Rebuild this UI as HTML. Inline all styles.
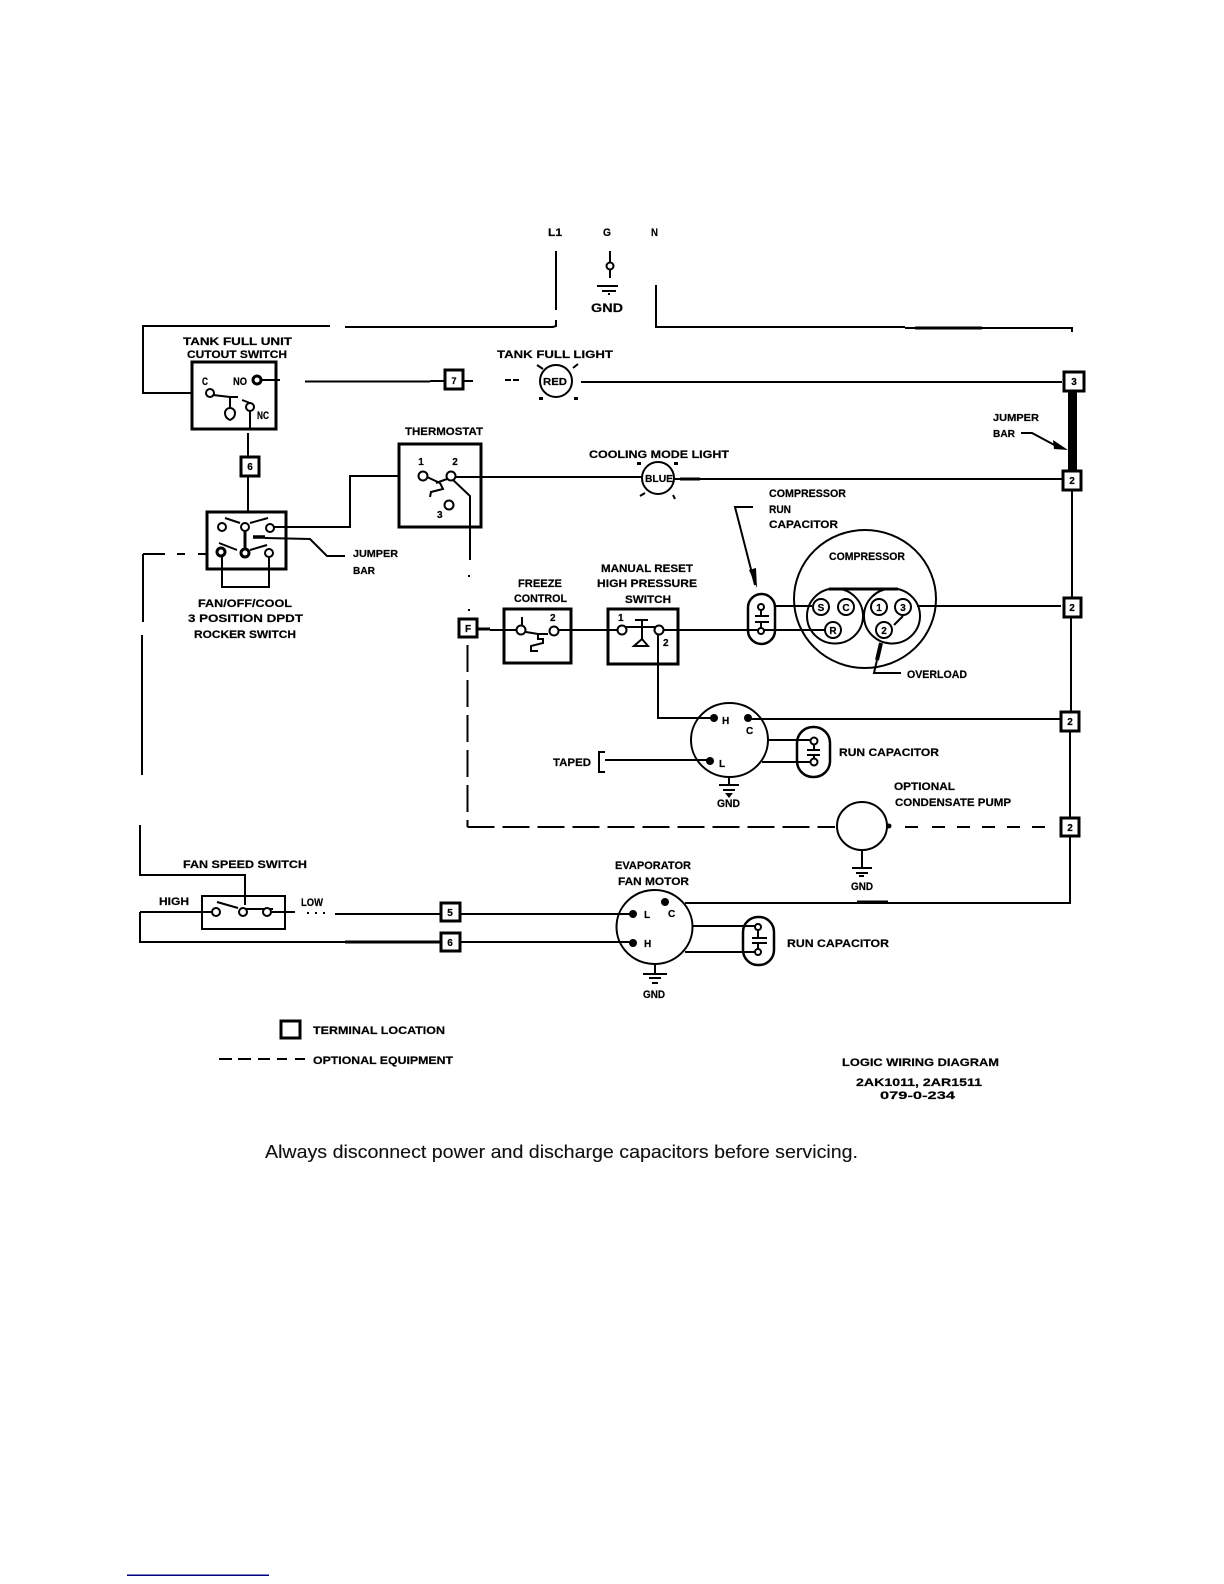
<!DOCTYPE html>
<html><head><meta charset="utf-8"><style>
html,body{margin:0;padding:0;background:#fff}
svg{display:block}
text{font-family:"Liberation Sans",sans-serif;font-weight:bold;font-size:11px;fill:#000;stroke:#000;stroke-width:.2}
.w{fill:none;stroke:#000;stroke-width:2}
.b{fill:#fff;stroke:#000;stroke-width:3}
.c{fill:#fff;stroke:#000;stroke-width:2}
.d{fill:#000}
.t{text-anchor:middle}
.n{font-weight:normal;font-size:18px;fill:#111;stroke-width:.1}
</style></head><body>
<svg width="1224" height="1584" viewBox="0 0 1224 1584" xmlns="http://www.w3.org/2000/svg">
<!-- mains -->
<path class="w" d="M556 251V310M556 320V326L553 327H345M330 326H143V393H205"/>
<path class="w" d="M610 251V278M597 286H618M602 291H616M609 293V295"/>
<circle class="c" cx="610" cy="266" r="3.5"/>
<path class="w" d="M656 285V327H905M905 328H1072V332"/>
<path d="M915 328H982" stroke="#000" stroke-width="3"/>
<text x="548" y="236" textLength="14" lengthAdjust="spacingAndGlyphs">L1</text><text x="603" y="236" textLength="8" lengthAdjust="spacingAndGlyphs">G</text><text x="651" y="236" textLength="7" lengthAdjust="spacingAndGlyphs">N</text>
<text x="591" y="312" textLength="32" lengthAdjust="spacingAndGlyphs" style="font-size:12px">GND</text>
<!-- tank switch -->
<text x="183" y="345" textLength="109" lengthAdjust="spacingAndGlyphs">TANK FULL UNIT</text>
<text x="187" y="358" textLength="100" lengthAdjust="spacingAndGlyphs">CUTOUT SWITCH</text>
<rect class="b" x="192" y="362" width="84" height="67"/>
<text x="202" y="385" textLength="6" lengthAdjust="spacingAndGlyphs">C</text><text x="233" y="385" textLength="14" lengthAdjust="spacingAndGlyphs">NO</text><text x="257" y="419" textLength="12" lengthAdjust="spacingAndGlyphs">NC</text>
<path class="w" d="M213 395L230 397H238M242 400L250 403M230 397V408M257 380H280M305 381.500H430M250 407V429M248 433V456M248 477V515"/>
<path class="w" d="M225 413a5 5 0 0 1 10 0q0 5-5 7q-5-2-5-7z"/>
<circle class="c" cx="210" cy="393" r="4"/><circle cx="257" cy="380" r="4" fill="#fff" stroke="#000" stroke-width="3"/><circle class="c" cx="250" cy="407" r="4"/>
<rect class="b" x="445" y="370" width="18" height="19"/><path class="w" d="M430 381H444M464 381H473"/><text class="t" x="454" y="384" style="font-size:9px">7</text>
<path class="w" d="M505 380H511M513 380H519"/>
<!-- tank light -->
<text x="497" y="358" textLength="116" lengthAdjust="spacingAndGlyphs">TANK FULL LIGHT</text>
<circle class="c" cx="556" cy="381" r="16"/><text x="543" y="385" textLength="24" lengthAdjust="spacingAndGlyphs" style="font-size:10px">RED</text>
<path class="w" d="M537 365L543 369M578 364L573 368"/><rect class="d" x="539" y="397" width="4" height="3"/><rect class="d" x="574" y="397" width="4" height="3"/>
<path class="w" d="M581 382H1062"/>
<rect class="b" x="1064" y="372" width="20" height="19"/><text class="t" x="1074" y="385" style="font-size:10px">3</text>
<rect class="d" x="1068" y="391" width="9" height="79"/>
<text x="993" y="421" textLength="46" lengthAdjust="spacingAndGlyphs" style="font-size:10px">JUMPER</text><text x="993" y="437" textLength="22" lengthAdjust="spacingAndGlyphs" style="font-size:10px">BAR</text>
<path class="w" d="M1021 433H1032L1060 448"/><path class="d" d="M1053 440L1068 450L1054 449Z"/>
<!-- box 6 -->
<rect class="b" x="241" y="457" width="18" height="19"/><text class="t" x="250" y="470" style="font-size:10px">6</text>
<!-- rocker -->
<rect class="b" x="207" y="512" width="79" height="57"/>
<path class="w" d="M225 518L240 523M250 523L268 518M219 543L237 550M250 550L267 545"/>
<path d="M245 527V553" stroke="#000" stroke-width="3"/>
<path class="w" d="M222 553V587H269V553"/>
<path d="M253 537H265" stroke="#000" stroke-width="3.500"/><path class="w" d="M265 538L310 539L327 556H345"/>
<circle class="c" cx="222" cy="527" r="4"/><circle class="c" cx="245" cy="527" r="4"/><circle class="c" cx="270" cy="528" r="4"/><circle cx="221" cy="552" r="4" fill="#fff" stroke="#000" stroke-width="3"/><circle cx="245" cy="553" r="4" fill="#fff" stroke="#000" stroke-width="3"/><circle class="c" cx="269" cy="553" r="4"/>
<path class="w" d="M274 527H350V476H418"/>
<text x="353" y="557" textLength="45" lengthAdjust="spacingAndGlyphs" style="font-size:10px">JUMPER</text><text x="353" y="574" textLength="22" lengthAdjust="spacingAndGlyphs" style="font-size:10px">BAR</text>
<text x="198" y="607" textLength="94" lengthAdjust="spacingAndGlyphs">FAN/OFF/COOL</text><text x="188" y="622" textLength="115" lengthAdjust="spacingAndGlyphs">3 POSITION DPDT</text><text x="194" y="638" textLength="102" lengthAdjust="spacingAndGlyphs">ROCKER SWITCH</text>
<path class="w" d="M143 554H165M177 554H185M198 554H207M143 554V622M142 635V775M140 825V875H245V905"/>
<!-- thermostat -->
<text x="405" y="435" textLength="78" lengthAdjust="spacingAndGlyphs">THERMOSTAT</text>
<rect class="b" x="399" y="444" width="82" height="83"/>
<text class="t" x="421" y="465" style="font-size:10px">1</text><text class="t" x="455" y="465" style="font-size:10px">2</text><text x="437" y="518" style="font-size:10px">3</text>
<path class="w" d="M427 477L440 483M436 483L447 479M440 483L443 489L431 492L430 497M451 478L470 496V560M469 575V577M469 609V611"/>
<circle class="c" cx="423" cy="476" r="4.500"/><circle class="c" cx="451" cy="476" r="4.500"/><circle class="c" cx="449" cy="505" r="4.500"/>
<path class="w" d="M456 477H642M674 479H1062"/>
<path d="M680 479H700" stroke="#000" stroke-width="3"/>
<!-- cool light -->
<text x="589" y="458" textLength="140" lengthAdjust="spacingAndGlyphs">COOLING MODE LIGHT</text>
<circle class="c" cx="658" cy="478" r="16"/><text x="645" y="482" textLength="28" lengthAdjust="spacingAndGlyphs" style="font-size:10px">BLUE</text>
<rect class="d" x="637" y="462" width="4" height="3"/><rect class="d" x="674" y="462" width="4" height="3"/><path class="w" d="M640 496L645 493M675 499L673 495"/>
<rect class="b" x="1063" y="471" width="18" height="19"/><text class="t" x="1072" y="484" style="font-size:10px">2</text>
<path class="w" d="M1072 490V597M1071 618V711M1070 732V817M1070 837V903H685"/><path d="M857 902H888" stroke="#000" stroke-width="3"/>
<!-- F + freeze + switch -->
<rect class="b" x="459" y="619" width="18" height="18"/><text class="t" x="468" y="632" style="font-size:10px">F</text>
<path d="M478 629H490" stroke="#000" stroke-width="3"/><path class="w" d="M490 630H825"/>
<text x="518" y="587" textLength="44" lengthAdjust="spacingAndGlyphs">FREEZE</text><text x="514" y="602" textLength="53" lengthAdjust="spacingAndGlyphs">CONTROL</text>
<rect x="504" y="609" width="67" height="54" fill="#fff" stroke="#000" stroke-width="3"/><path class="w" d="M490 630H521M554 630H608"/>
<path class="w" d="M522 617V625M526 632L538 634H548M538 634V639H543V643L531 646V651H538"/>
<circle class="c" cx="521" cy="630" r="4.500"/><circle class="c" cx="554" cy="631" r="4.500"/><text x="550" y="621" style="font-size:10px">2</text>
<text x="601" y="572" textLength="92" lengthAdjust="spacingAndGlyphs">MANUAL RESET</text><text x="597" y="587" textLength="100" lengthAdjust="spacingAndGlyphs">HIGH PRESSURE</text><text x="625" y="603" textLength="46" lengthAdjust="spacingAndGlyphs">SWITCH</text>
<rect x="608" y="609" width="70" height="55" fill="#fff" stroke="#000" stroke-width="3"/>
<path class="w" d="M608 630H618M664 630H678M635 620H648M642 620V640M642 646H634L642 639L648 646Z"/>
<path class="w" d="M618 627H655"/><path class="w" d="M658 635V718H714"/>
<circle class="c" cx="622" cy="630" r="4.500"/><circle class="c" cx="659" cy="630" r="4.500"/>
<text x="618" y="621" style="font-size:10px">1</text><text x="663" y="646" style="font-size:10px">2</text>
<!-- compressor -->
<path class="w" d="M753 507H735L755 585"/><path class="d" d="M749 570L756 568L757 588Z"/>
<text x="769" y="497" textLength="77" lengthAdjust="spacingAndGlyphs">COMPRESSOR</text><text x="769" y="513" textLength="22" lengthAdjust="spacingAndGlyphs">RUN</text><text x="769" y="528" textLength="69" lengthAdjust="spacingAndGlyphs">CAPACITOR</text>
<ellipse class="w" cx="865" cy="599" rx="71" ry="69"/>
<text x="829" y="560" textLength="76" lengthAdjust="spacingAndGlyphs">COMPRESSOR</text>
<path class="w" d="M775 606H812"/>
<rect x="748" y="594" width="27" height="50" rx="13.500" fill="#fff" stroke="#000" stroke-width="2.500"/>
<path class="w" d="M748 630H812M755 616H769M755 622H769M761 607V616M761 622V631"/><circle class="c" cx="761" cy="607" r="3"/><circle class="c" cx="761" cy="631" r="3"/>
<path d="M829 589H898" stroke="#000" stroke-width="3"/>
<ellipse class="w" cx="835" cy="616" rx="28" ry="27.500"/><ellipse class="w" cx="892" cy="616" rx="28" ry="27.500"/>
<path class="w" d="M903 616L894 625M917 606H1061M812 630H824"/>
<circle class="c" cx="821" cy="607" r="8"/><circle class="c" cx="846" cy="607" r="8"/><circle class="c" cx="833" cy="630" r="8"/><circle class="c" cx="879" cy="607" r="8"/><circle class="c" cx="903" cy="607" r="8"/><circle class="c" cx="884" cy="630" r="8"/>
<text class="t" x="821" y="611" style="font-size:10px">S</text><text class="t" x="846" y="611" style="font-size:10px">C</text><text class="t" x="833" y="634" style="font-size:10px">R</text><text class="t" x="879" y="611" style="font-size:10px">1</text><text class="t" x="903" y="611" style="font-size:10px">3</text><text class="t" x="884" y="634" style="font-size:10px">2</text>
<path d="M881 643L877 660" stroke="#000" stroke-width="4"/><path class="w" d="M877 660L874 673H901"/>
<text x="907" y="678" textLength="60" lengthAdjust="spacingAndGlyphs">OVERLOAD</text>
<rect class="b" x="1064" y="598" width="17" height="19"/><text class="t" x="1072" y="611" style="font-size:10px">2</text>
<!-- H motor -->
<ellipse class="w" cx="729.500" cy="740" rx="38.500" ry="37"/>
<circle class="d" cx="714" cy="718" r="4"/><circle class="d" cx="748" cy="718" r="4"/><circle class="d" cx="710" cy="761" r="4"/>
<text x="722" y="724" style="font-size:10px">H</text><text x="746" y="734" style="font-size:10px">C</text><text x="719" y="767" style="font-size:10px">L</text>
<path class="w" d="M750 719H1060M605 760H710M605 752H599V772H605M768 740H812M762 762H812"/>
<text x="553" y="766" textLength="38" lengthAdjust="spacingAndGlyphs">TAPED</text>
<path class="w" d="M729 777V785M719 785H739M723 790H735"/><path class="d" d="M725 793H733L729 798Z"/><text x="717" y="807" textLength="23" lengthAdjust="spacingAndGlyphs">GND</text>
<rect x="797" y="727" width="33" height="50" rx="16" fill="#fff" stroke="#000" stroke-width="2.500"/><path class="w" d="M797 740H814M797 762H814M807 750H820M807 755H820M814 741V750M814 755V762"/><circle class="c" cx="814" cy="741" r="3.500"/><circle class="c" cx="814" cy="762" r="3.500"/>
<text x="839" y="756" textLength="100" lengthAdjust="spacingAndGlyphs">RUN CAPACITOR</text>
<rect class="b" x="1061" y="712" width="18" height="19"/><text class="t" x="1070" y="725" style="font-size:10px">2</text>
<!-- pump -->
<path class="w" d="M467.500 645V827" stroke-dasharray="27 8"/><path class="w" d="M467.500 827H835" stroke-dasharray="27 8"/>
<ellipse class="w" cx="862" cy="826" rx="25" ry="24"/><circle class="d" cx="889" cy="826" r="2.500"/>
<path class="w" d="M905 827H918M932 827H945M957 827H970M982 827H995M1007 827H1020M1032 827H1045"/>
<text x="894" y="790" textLength="61" lengthAdjust="spacingAndGlyphs">OPTIONAL</text><text x="895" y="806" textLength="116" lengthAdjust="spacingAndGlyphs">CONDENSATE PUMP</text>
<path class="w" d="M862 850V867M852 868H872M856 873H868M859 876H864"/><text x="851" y="890" textLength="22" lengthAdjust="spacingAndGlyphs">GND</text>
<rect class="b" x="1061" y="818" width="18" height="18"/><text class="t" x="1070" y="831" style="font-size:10px">2</text>
<!-- fan speed -->
<text x="183" y="868" textLength="124" lengthAdjust="spacingAndGlyphs">FAN SPEED SWITCH</text><text x="159" y="905" textLength="30" lengthAdjust="spacingAndGlyphs">HIGH</text><text x="301" y="906" textLength="22" lengthAdjust="spacingAndGlyphs">LOW</text>
<rect x="202" y="896" width="83" height="33" fill="none" stroke="#000" stroke-width="2"/>
<path class="w" d="M217 902L238 908M245 909H273M267 912H295M335 914H440M140 912H212M140 912V942H440M461 914H632M461 942H633"/>
<path d="M345 942H440" stroke="#000" stroke-width="3"/>
<path class="w" d="M307 913H330" stroke-dasharray="2 6"/>
<circle class="c" cx="216" cy="912" r="4"/><circle class="c" cx="243" cy="912" r="4"/><circle class="c" cx="267" cy="912" r="4"/>
<rect class="b" x="441" y="903" width="19" height="18"/><text class="t" x="450" y="916" style="font-size:10px">5</text>
<rect class="b" x="441" y="933" width="19" height="18"/><text class="t" x="450" y="946" style="font-size:10px">6</text>
<!-- evap -->
<text x="615" y="869" textLength="76" lengthAdjust="spacingAndGlyphs">EVAPORATOR</text><text x="618" y="885" textLength="71" lengthAdjust="spacingAndGlyphs">FAN MOTOR</text>
<ellipse class="w" cx="654.500" cy="927" rx="38" ry="37"/>
<circle class="d" cx="665" cy="902" r="4"/><circle class="d" cx="633" cy="914" r="4"/><circle class="d" cx="633" cy="943" r="4"/>
<text x="644" y="918" style="font-size:10px">L</text><text x="668" y="917" style="font-size:10px">C</text><text x="644" y="947" style="font-size:10px">H</text>
<path class="w" d="M693 926H758M685 952H758"/>
<rect x="743" y="917" width="31" height="48" rx="15" fill="#fff" stroke="#000" stroke-width="2.500"/><path class="w" d="M743 926H758M743 952H758M752 938H767M752 943H767M758 927V938M758 943V952"/><circle class="c" cx="758" cy="927" r="3"/><circle class="c" cx="758" cy="952" r="3"/>
<text x="787" y="947" textLength="102" lengthAdjust="spacingAndGlyphs">RUN CAPACITOR</text>
<path class="w" d="M655 964V973M643 974H667M649 978H661M652 983H658"/><text x="643" y="998" textLength="22" lengthAdjust="spacingAndGlyphs">GND</text>
<!-- legend -->
<rect class="b" x="281" y="1021" width="19" height="17"/><text x="313" y="1034" textLength="132" lengthAdjust="spacingAndGlyphs">TERMINAL LOCATION</text>
<path class="w" d="M219 1059H232M238 1059H251M258 1059H270M277 1059H287M295 1059H305"/><text x="313" y="1064" textLength="140" lengthAdjust="spacingAndGlyphs">OPTIONAL EQUIPMENT</text>
<text x="842" y="1066" textLength="157" lengthAdjust="spacingAndGlyphs">LOGIC WIRING DIAGRAM</text><text x="856" y="1086" textLength="126" lengthAdjust="spacingAndGlyphs">2AK1011, 2AR1511</text><text x="880" y="1099" textLength="75" lengthAdjust="spacingAndGlyphs">079-0-234</text>
<text class="n" x="265" y="1158" textLength="593" lengthAdjust="spacingAndGlyphs">Always disconnect power and discharge capacitors before servicing.</text>
<rect x="127" y="1574.500" width="142" height="1.500" fill="#000080"/>
</svg>
</body></html>
